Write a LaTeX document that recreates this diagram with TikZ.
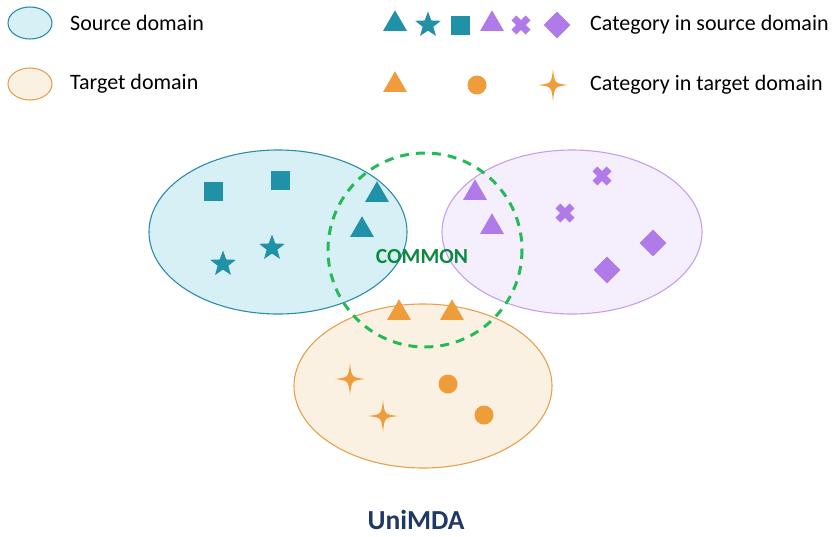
\documentclass[tikz,border=0pt]{standalone}
\usepackage{fontspec}
\setmainfont{Carlito}
\usetikzlibrary{shapes.geometric}
\definecolor{srcfill}{HTML}{D6F0F6}
\definecolor{srcline}{HTML}{2E8CA8}
\definecolor{srcmark}{HTML}{2191A8}
\definecolor{purfill}{HTML}{F5EEFC}
\definecolor{purline}{HTML}{C4A0EA}
\definecolor{purmark}{HTML}{B07AE8}
\definecolor{tgtfill}{HTML}{FBF1E3}
\definecolor{tgtline}{HTML}{E6A150}
\definecolor{tgtmark}{HTML}{EE9D3A}
\definecolor{comline}{HTML}{22BB55}
\definecolor{comtext}{HTML}{0B8A40}
\definecolor{titletext}{HTML}{1F3864}
\tikzset{
  tri/.style={regular polygon, regular polygon sides=3, minimum size=27.5pt, inner sep=0pt, fill=#1, yshift=1pt},
  starmark/.style={star, star points=5, star point ratio=2.4, minimum size=27pt, inner sep=0pt, fill=#1},
  sqmark/.style={rectangle, minimum size=19pt, inner sep=0pt, fill=#1},
  diamark/.style={diamond, minimum size=27pt, inner sep=0pt, fill=#1},
  dotmark/.style={circle, minimum size=19pt, inner sep=0pt, fill=#1},
  legtext/.style={anchor=west, font=\fontsize{22}{26}\selectfont, inner sep=0pt},
  pics/crossmark/.style={code={
    \fill[#1, rotate=45] (-10,-3.4) rectangle (10,3.4);
    \fill[#1, rotate=-45] (-10,-3.4) rectangle (10,3.4);
  }},
  pics/sparkle/.style={code={
    \fill[#1] (0,-16) .. controls (1.6,-1.6) .. (15,0) .. controls (1.6,1.6) .. (0,16)
      .. controls (-1.6,1.6) .. (-15,0) .. controls (-1.6,-1.6) .. cycle;
  }},
}
\begin{document}
\begin{tikzpicture}[x=1pt, y=-1pt]
\useasboundingbox (0,0) rectangle (833,536);

% legend: domains
\draw[srcline, fill=srcfill, line width=1.1pt] (30,23) ellipse [x radius=22, y radius=16];
\node[legtext] (lsrc) at (70,23) {Source domain};
\draw[tgtline, fill=tgtfill, line width=1.1pt] (30,84) ellipse [x radius=22, y radius=16];
\node[legtext] (ltgt) at (70,84) {Target domain};

% legend: categories
\node[tri=srcmark] (ls1) at (395,25) {};
\node[starmark=srcmark] (ls2) at (428,25) {};
\node[sqmark=srcmark] (ls3) at (460,25) {};
\node[tri=purmark] (ls4) at (492,25) {};
\pic at (521,25) {crossmark=purmark};
\node[diamark=purmark] (ls6) at (557,25) {};
\node[legtext] (lcs) at (590,25) {Category in source domain};

\node[tri=tgtmark] (lt1) at (395,86) {};
\node[dotmark=tgtmark] (lt2) at (477,85) {};
\pic at (553,85) {sparkle=tgtmark};
\node[legtext] (lct) at (590,85) {Category in target domain};

% domains
\draw[srcline, fill=srcfill, line width=1.1pt] (278,232) ellipse [x radius=129, y radius=82];
\draw[purline, fill=purfill, line width=1.1pt] (572,232) ellipse [x radius=130, y radius=82];
\draw[tgtline, fill=tgtfill, line width=1.1pt] (423,386) ellipse [x radius=129, y radius=82];

% common region
\draw[comline, line width=3pt, dash pattern=on 9pt off 7pt] (425,250) circle [radius=97];
\node[font=\bfseries\fontsize{21.5}{25}\selectfont, text=comtext] (common) at (422,257) {COMMON};

% source domain samples
\node[sqmark=srcmark] (s1) at (213,191) {};
\node[sqmark=srcmark] (s2) at (280,180) {};
\node[starmark=srcmark] (s3) at (223,264) {};
\node[starmark=srcmark] (s4) at (272,248) {};
\node[tri=srcmark] (s5) at (377,196) {};
\node[tri=srcmark] (s6) at (362,231) {};

% second source domain samples
\node[tri=purmark] (p1) at (475,194) {};
\node[tri=purmark] (p2) at (492,228) {};
\pic at (602,176) {crossmark=purmark};
\pic at (565,213) {crossmark=purmark};
\node[diamark=purmark] (p5) at (653,243) {};
\node[diamark=purmark] (p6) at (607,270) {};

% target domain samples
\node[tri=tgtmark] (t1) at (399,314) {};
\node[tri=tgtmark] (t2) at (452,314) {};
\pic at (350,379) {sparkle=tgtmark};
\pic at (383,416) {sparkle=tgtmark};
\node[dotmark=tgtmark] (t5) at (448,384) {};
\node[dotmark=tgtmark] (t6) at (484,415) {};

\node[font=\bfseries\fontsize{27.5}{32}\selectfont, text=titletext] (title) at (416,520) {UniMDA};
\end{tikzpicture}
\end{document}
